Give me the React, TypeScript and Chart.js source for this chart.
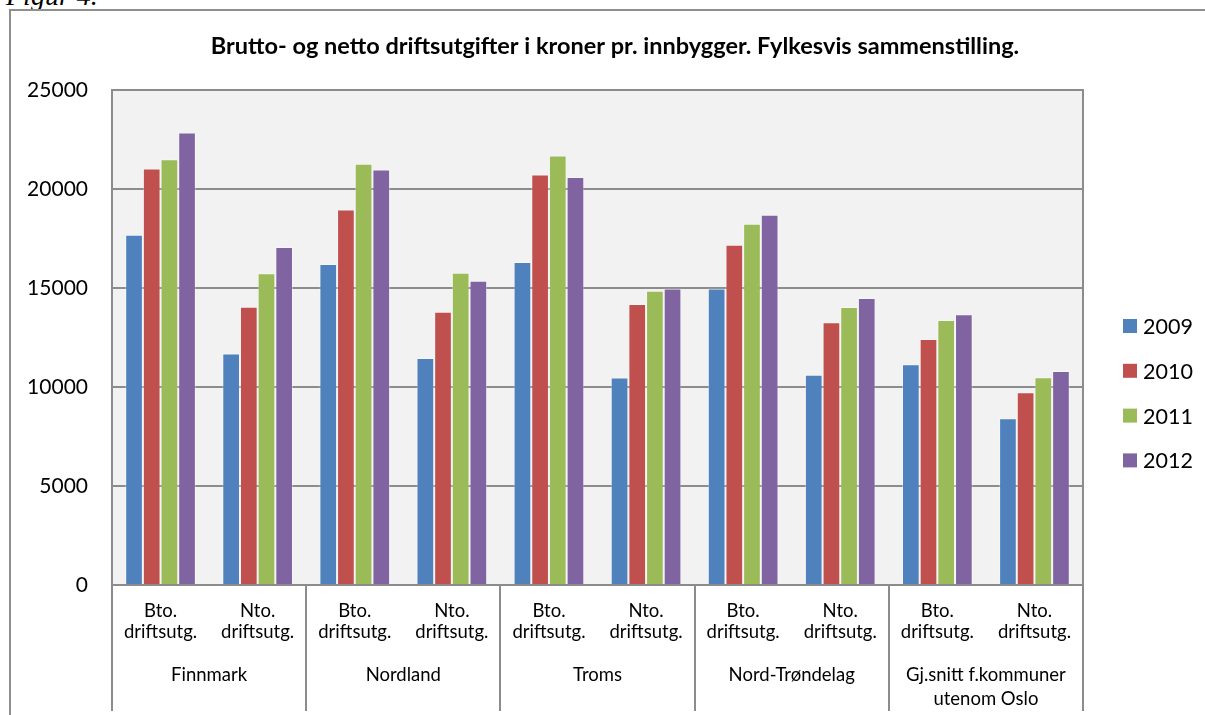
import React, { useEffect, useRef } from 'react';
import { Chart, registerables } from 'chart.js';

Chart.register(...registerables);

const chartTitle = 'Brutto- og netto driftsutgifter i kroner pr. innbygger. Fylkesvis sammenstilling.';
const groupLabels: (string | string[])[] = [
  'Finnmark',
  'Nordland',
  'Troms',
  'Nord-Trøndelag',
  ['Gj.snitt f.kommuner', 'utenom Oslo'],
];
const measureLabels: string[][] = [
  ['Bto.', 'driftsutg.'],
  ['Nto.', 'driftsutg.'],
];
const categoryLabels: string[][] = groupLabels.flatMap(() => measureLabels);
const seriesNames = ['2009', '2010', '2011', '2012'];
const values2009 = [17690, 11690, 16210, 11460, 16310, 10480, 14980, 10620, 11150, 8420];
const values2010 = [21030, 14050, 18960, 13800, 20730, 14190, 17190, 13270, 12420, 9730];
const values2011 = [21500, 15740, 21280, 15770, 21690, 14860, 18250, 14040, 13380, 10490];
const values2012 = [22850, 17070, 20980, 15370, 20610, 14980, 18700, 14490, 13670, 10810];
const seriesValues = [values2009, values2010, values2011, values2012];
const seriesColors = ['#4F81BD', '#C0504D', '#9BBB59', '#8064A2'];
const yMin = 0;
const yMax = 25000;
const yStep = 5000;

const FONT = 'Lato, "Open Sans", sans-serif';
const GRID = '#8c8c8c';

const plotBackground = {
  id: 'plotBackground',
  beforeDraw(chart: any) {
    const { ctx, chartArea } = chart;
    ctx.save();
    ctx.fillStyle = '#F2F2F2';
    ctx.fillRect(chartArea.left, chartArea.top, chartArea.right - chartArea.left, chartArea.bottom - chartArea.top);
    ctx.restore();
  },
  afterDraw(chart: any) {
    const { ctx, chartArea } = chart;
    ctx.save();
    ctx.strokeStyle = GRID;
    ctx.lineWidth = 2;
    ctx.strokeRect(chartArea.left, chartArea.top, chartArea.right - chartArea.left, chartArea.bottom - chartArea.top);
    ctx.restore();
  },
};

const titlePlugin = {
  id: 'customTitle',
  afterDraw(chart: any) {
    const { ctx } = chart;
    ctx.save();
    ctx.font = `bold 23.5px ${FONT}`;
    ctx.fillStyle = '#000';
    ctx.textAlign = 'center';
    ctx.textBaseline = 'alphabetic';
    ctx.fillText(chartTitle, 615, 54);
    ctx.restore();
  },
};

const legendPlugin = {
  id: 'customLegend',
  afterDraw(chart: any) {
    const { ctx, chartArea } = chart;
    const x = chartArea.right + 40;
    const y0 = 326;
    const step = 44.8;
    ctx.save();
    ctx.font = `21.5px ${FONT}`;
    ctx.textBaseline = 'middle';
    ctx.textAlign = 'left';
    chart.data.datasets.forEach((ds: any, i: number) => {
      const y = y0 + i * step;
      ctx.fillStyle = ds.backgroundColor;
      ctx.fillRect(x, y - 7, 14, 14);
      ctx.fillStyle = '#000';
      ctx.fillText(ds.label, x + 20, y + 1);
    });
    ctx.restore();
  },
};

function BarChart() {
  const ref = useRef<HTMLCanvasElement | null>(null);
  useEffect(() => {
    if (!ref.current) return;
    const chart = new Chart(ref.current, {
      type: 'bar',
      data: {
        labels: categoryLabels as any,
        datasets: seriesNames.map((name, i) => ({
          label: name,
          data: seriesValues[i],
          backgroundColor: seriesColors[i],
          borderColor: 'rgba(255,255,255,0.35)',
          borderWidth: 1,
          categoryPercentage: 0.728,
          barPercentage: 1.0,
        })),
      },
      options: {
        animation: false,
        responsive: false,
        devicePixelRatio: 1,
        layout: { padding: { top: 90, right: 122, bottom: 4, left: 0 } },
        plugins: {
          legend: { display: false },
          title: { display: false },
          tooltip: { enabled: false },
        },
        scales: {
          y: {
            min: yMin,
            max: yMax,
            ticks: {
              stepSize: yStep,
              color: '#000',
              font: { family: FONT, size: 21 },
              padding: 24,
              callback: (v: any) => String(v),
            },
            grid: { color: GRID, lineWidth: 2, drawTicks: false },
            border: { display: true, color: GRID, width: 2 },
            afterFit: (s: any) => { s.width = 112; },
          },
          x: {
            type: 'category',
            position: 'bottom',
            weight: 0,
            ticks: {
              color: '#000',
              font: { family: FONT, size: 18.5, lineHeight: '21px' },
              padding: -54,
              maxRotation: 0,
              autoSkip: false,
            },
            grid: {
              offset: true,
              drawOnChartArea: false,
              drawTicks: true,
              tickLength: 70,
              lineWidth: 2,
              color: (c: any) => (c.index === undefined || c.index % 2 === 0 ? GRID : 'rgba(0,0,0,0)'),
            },
            border: { display: true, color: GRID, width: 2 },
            afterFit: (s: any) => { s.height = 70; },
          },
          x2: {
            type: 'category',
            position: 'bottom',
            weight: 1,
            labels: groupLabels as any,
            offset: true,
            ticks: {
              color: '#000',
              font: { family: FONT, size: 18.5, lineHeight: '24px' },
              padding: -48,
              maxRotation: 0,
              autoSkip: false,
            },
            grid: {
              offset: true,
              drawOnChartArea: false,
              drawTicks: true,
              tickLength: 56,
              lineWidth: 2,
              color: GRID,
            },
            border: { display: false },
            afterFit: (s: any) => { s.height = 56; },
          },
        },
      } as any,
      plugins: [plotBackground, titlePlugin, legendPlugin],
    });
    return () => chart.destroy();
  }, []);
  return <canvas ref={ref} width={1205} height={715} style={{ position: 'absolute', left: 0, top: 0, width: 1205, height: 715 }} />;
}

export default function App() {
  return (
    <div style={{ position: 'fixed', left: 0, top: 0, width: 1205, height: 715, overflow: 'hidden', background: '#fff' }}>
      <div
        style={{
          position: 'absolute',
          left: 6,
          top: -20,
          fontFamily: '"Liberation Serif", "Times New Roman", serif',
          fontStyle: 'italic',
          fontSize: 28,
          lineHeight: 'normal',
          color: '#000',
          whiteSpace: 'nowrap',
        }}
      >
        Figur 4.
      </div>
      <div
        style={{
          position: 'absolute',
          left: 9,
          top: 9,
          width: 2000,
          height: 2000,
          border: '2px solid #8f8f8f',
        }}
      />
      <BarChart />
    </div>
  );
}
